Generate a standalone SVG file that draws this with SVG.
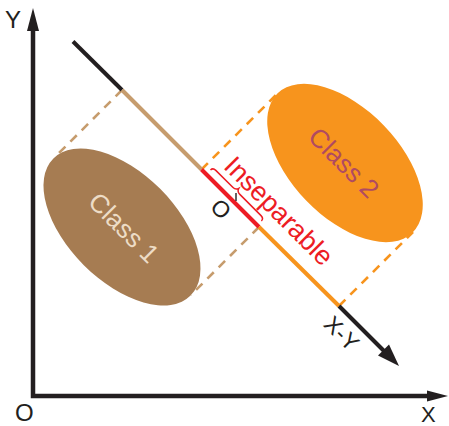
<svg xmlns="http://www.w3.org/2000/svg" width="449" height="426" viewBox="0 0 449 426">
<style>
.lbl{font-family:"Liberation Sans",Arial,sans-serif;fill:#231f20}
.dash{fill:none;stroke-width:2.6;stroke-dasharray:9 7}
.seg{fill:none;stroke-width:4;stroke-linecap:butt}
</style>
<rect width="449" height="426" fill="#ffffff"/>
<g id="connectors">
  <path d="M122,90 L57,155" class="dash" stroke="#c69c6d"/>
  <path d="M259,227 L191,295" class="dash" stroke="#c69c6d"/>
  <path d="M201.5,169.5 L276,95" class="dash" stroke="#f7941d"/>
  <path d="M339,306 L413,232" class="dash" stroke="#f7941d"/>
</g>
<g id="class1">
  <ellipse cx="122" cy="227" rx="97" ry="54" transform="rotate(45 122 227)" fill="#a67c52"/>
  <text class="lbl" transform="translate(117.5,234) rotate(45)" text-anchor="middle" font-size="26" style="fill:#eddcc6">Class 1</text>
</g>
<g id="class2">
  <ellipse cx="345" cy="163" rx="97" ry="54" transform="rotate(46 345 163)" fill="#f7941d"/>
  <text class="lbl" transform="translate(337.5,169) rotate(45)" text-anchor="middle" font-size="26" style="fill:#b04a62">Class 2</text>
</g>
<g id="axes">
  <path d="M33,28 V396 H430" fill="none" stroke="#231f20" stroke-width="4.5" stroke-linejoin="miter"/>
  <polygon points="33,8 27,31 39,31" fill="#231f20"/>
  <polygon points="448,396 427,390.5 427,401.5" fill="#231f20"/>
  <text class="lbl" x="5" y="28" font-size="24">Y</text>
  <text class="lbl" x="15" y="421" font-size="24">O</text>
  <text class="lbl" x="421" y="421.5" font-size="22">X</text>
</g>
<g id="xy-line">
  <path d="M73,41.5 L122,90" class="seg" stroke="#231f20"/>
  <path d="M122,90 L201.5,169.5" class="seg" stroke="#c69c6d"/>
  <path d="M201.5,169.5 L259,227" class="seg" stroke="#ed1c24"/>
  <path d="M259,227 L339,306" class="seg" stroke="#f7941d"/>
  <path d="M339,306 L388,355" class="seg" stroke="#231f20"/>
  <polygon points="399,366 378,355.5 389,344.5" fill="#231f20"/>
  <text class="lbl" transform="translate(336,339) rotate(45)" text-anchor="middle" font-size="23">X-Y</text>
</g>
<g id="inseparable">
  <path d="M6,-6 Q6,-9.5 10,-9.5 L34,-9.5 Q38,-9.5 39,-13 Q40,-9.5 44,-9.5 L74,-9.5 Q78,-9.5 78,-6" transform="translate(202,170) rotate(45)" fill="none" stroke="#ed1c24" stroke-width="1.5"/>
  <text class="lbl" transform="translate(272.5,217.5) rotate(45)" text-anchor="middle" font-size="27" style="fill:#ed1c24">Inseparable</text>
</g>
<g id="origin">
  <path d="M236,193 L236,201" stroke="#231f20" stroke-width="1.4"/>
  <text class="lbl" transform="translate(221,209) rotate(45)" text-anchor="middle" font-size="23" y="8">O</text>
</g>
</svg>
